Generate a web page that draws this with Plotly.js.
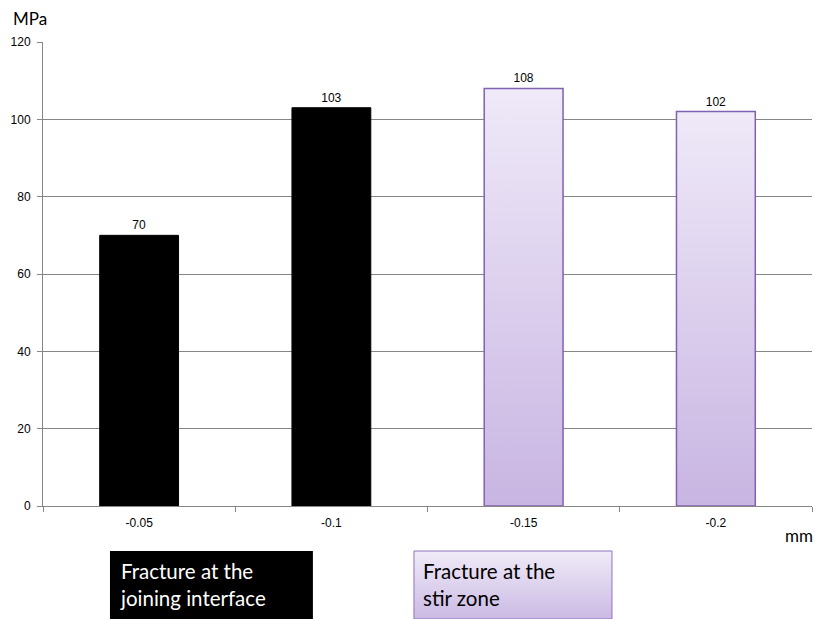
<!DOCTYPE html>
<html>
<head>
<meta charset="utf-8">
<script src="https://cdn.plot.ly/plotly-3.0.1.min.js"></script>
<style>
  html, body { margin: 0; padding: 0; background: #fff; }
  #chart { width: 816px; height: 619px; }
</style>
</head>
<body>
<div id="chart"></div>
<script>
// Tensile strength by tool offset
const offsets = ['-0.05', '-0.1', '-0.15', '-0.2'];
const interfaceOffsets = ['-0.05', '-0.1'];
const interfaceStrength = [70, 103];
const stirZoneOffsets = ['-0.15', '-0.2'];
const stirZoneStrength = [108, 102];
const yTicks = [0, 20, 40, 60, 80, 100, 120];

const axisGrey = '#868686';
const tickFont = { family: 'Liberation Sans, Arial, sans-serif', size: 12, color: '#000' };
const boxFont = { family: 'Lato, Open Sans, sans-serif', size: 20.5 };
const unitFont = { family: 'Lato, Open Sans, sans-serif', size: 17, color: '#000' };

const traces = [
  {
    type: 'bar',
    name: 'Fracture at the joining interface',
    x: interfaceOffsets,
    y: interfaceStrength,
    marker: { color: '#000', line: { color: '#000', width: 1 } },
    text: interfaceStrength.map(String),
    textposition: 'outside',
    textfont: tickFont,
    cliponaxis: false,
    hoverinfo: 'x+y'
  },
  {
    type: 'bar',
    name: 'Fracture at the stir zone',
    x: stirZoneOffsets,
    y: stirZoneStrength,
    marker: { color: '#DCD0EE', line: { color: '#7F62B3', width: 1.5 } },
    text: stirZoneStrength.map(String),
    textposition: 'outside',
    textfont: tickFont,
    cliponaxis: false,
    hoverinfo: 'x+y'
  }
];

const layout = {
  width: 816,
  height: 619,
  margin: { l: 43, r: 4, t: 42, b: 113 },
  paper_bgcolor: '#fff',
  plot_bgcolor: '#fff',
  showlegend: false,
  barmode: 'overlay',
  bargap: 0.59,
  xaxis: {
    type: 'category',
    categoryorder: 'array',
    categoryarray: offsets,
    tickson: 'boundaries',
    ticks: 'outside',
    ticklen: 5,
    tickcolor: axisGrey,
    showline: true,
    linecolor: axisGrey,
    linewidth: 1,
    showgrid: false,
    tickfont: tickFont,
    ticklabelstandoff: 6,
    fixedrange: true
  },
  yaxis: {
    range: [0, 120],
    tickvals: yTicks,
    ticktext: yTicks.map(String),
    ticks: 'outside',
    ticklen: 5,
    tickcolor: axisGrey,
    showline: true,
    linecolor: axisGrey,
    linewidth: 1,
    showgrid: true,
    gridcolor: axisGrey,
    gridwidth: 1,
    zeroline: false,
    tickfont: tickFont,
    ticklabelstandoff: 4,
    fixedrange: true
  },
  shapes: [
    { type: 'rect', xref: 'paper', yref: 'paper', x0: 0.0871, x1: 0.351, y0: -0.2435, y1: -0.097,
      fillcolor: '#000', line: { width: 0 }, layer: 'above' },
    { type: 'rect', xref: 'paper', yref: 'paper', x0: 0.4824, x1: 0.7399, y0: -0.2435, y1: -0.097,
      fillcolor: '#DCD0EE', line: { color: '#8F74C0', width: 1 }, layer: 'above' }
  ],
  annotations: [
    { text: 'MPa', xref: 'paper', yref: 'paper', x: -0.0416, y: 1.0517, xanchor: 'left', yanchor: 'middle',
      showarrow: false, font: unitFont },
    { text: 'mm', xref: 'paper', yref: 'paper', x: 1.0039, y: -0.0625, xanchor: 'right', yanchor: 'middle',
      showarrow: false, font: unitFont },
    { text: 'Fracture at the<br>joining interface', xref: 'paper', yref: 'paper', x: 0.0975, y: -0.1105,
      xanchor: 'left', yanchor: 'top', align: 'left', showarrow: false,
      font: Object.assign({ color: '#fff' }, boxFont) },
    { text: 'Fracture at the<br>stir zone', xref: 'paper', yref: 'paper', x: 0.4915, y: -0.1105,
      xanchor: 'left', yanchor: 'top', align: 'left', showarrow: false,
      font: Object.assign({ color: '#000' }, boxFont) }
  ]
};

function addGradient(svg, id, top, bottom) {
  const ns = 'http://www.w3.org/2000/svg';
  let defs = svg.querySelector('defs');
  if (!defs) { defs = document.createElementNS(ns, 'defs'); svg.insertBefore(defs, svg.firstChild); }
  const g = document.createElementNS(ns, 'linearGradient');
  g.setAttribute('id', id);
  g.setAttribute('x1', '0'); g.setAttribute('y1', '0');
  g.setAttribute('x2', '0'); g.setAttribute('y2', '1');
  [[0, top], [1, bottom]].forEach(([o, c]) => {
    const s = document.createElementNS(ns, 'stop');
    s.setAttribute('offset', o);
    s.setAttribute('stop-color', c);
    g.appendChild(s);
  });
  defs.appendChild(g);
}

Plotly.newPlot('chart', traces, layout, { displayModeBar: false, staticPlot: true }).then(gd => {
  const svg = gd.querySelector('.main-svg');
  addGradient(svg, 'stirBarFill', '#EFE9F8', '#C8B5E2');
  addGradient(svg, 'stirBoxFill', '#F0EBF8', '#CBBAE4');
  const bars = gd.querySelectorAll('.barlayer .trace');
  if (bars[1]) bars[1].querySelectorAll('.point path').forEach(p => { p.style.fill = 'url(#stirBarFill)'; });
  const shapes = gd.querySelectorAll('.shapelayer path');
  if (shapes[1]) shapes[1].style.fill = 'url(#stirBoxFill)';
});
</script>
</body>
</html>
